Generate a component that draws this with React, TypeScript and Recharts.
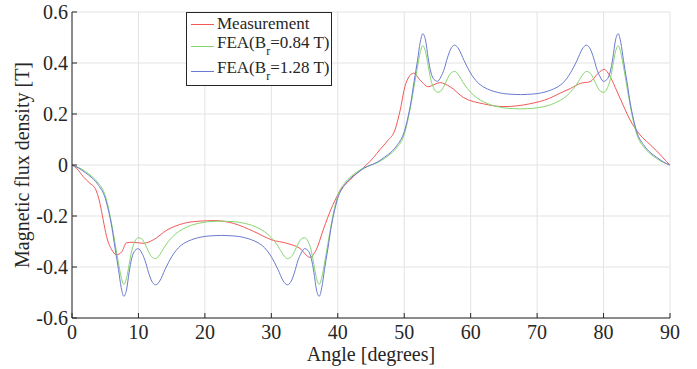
import React from 'react';
import { LineChart, Line, XAxis, YAxis, CartesianGrid, Label } from 'recharts';

// ---------- data ----------
const angleTicks = [0, 10, 20, 30, 40, 50, 60, 70, 80, 90];
const fluxTicks = [-0.6, -0.4, -0.2, 0, 0.2, 0.4, 0.6];

const measurementAngle = [0, 0.7, 1.7, 2.7, 3.5, 4.2, 4.7, 5.2, 6, 6.7, 7.5, 8.2, 9.2, 10.7, 12.2, 14.3, 16.8, 19.3, 21.5, 24.3, 27.3, 30.1, 32.3, 34.3, 35.8, 36.8, 37.8, 39.2, 40.5, 41.8, 43, 44.3, 45.4, 46.4, 47.5, 48.6, 49.4, 50.1, 50.7, 51.4, 52.4, 53.6, 55.4, 56.9, 58.9, 61.9, 65, 68.9, 71.9, 73.4, 75, 76.5, 78, 79.2, 80.1, 81, 82, 83.2, 84, 85.5, 87, 88, 89.5, 90];
const measurementFlux = [0, -0.013, -0.046, -0.072, -0.092, -0.15, -0.216, -0.28, -0.333, -0.352, -0.34, -0.305, -0.303, -0.307, -0.294, -0.255, -0.229, -0.22, -0.218, -0.229, -0.26, -0.294, -0.307, -0.327, -0.362, -0.33, -0.255, -0.16, -0.095, -0.059, -0.03, 0, 0.03, 0.062, 0.095, 0.137, 0.216, 0.307, 0.345, 0.36, 0.333, 0.307, 0.323, 0.307, 0.265, 0.24, 0.229, 0.24, 0.262, 0.281, 0.3, 0.32, 0.327, 0.36, 0.375, 0.346, 0.29, 0.22, 0.176, 0.118, 0.08, 0.055, 0.013, 0];

const feaAngle = [0, 1, 2, 3, 4, 5, 5.5, 6, 6.5, 7, 7.4, 7.8, 8.2, 8.6, 9, 9.5, 10, 10.5, 11, 11.5, 12, 12.6, 13.2, 14, 15, 16, 17, 18, 19, 20, 21.5, 22.5, 23.5, 25, 26, 27, 28, 29, 30, 31, 31.8, 32.4, 33, 33.5, 34, 34.5, 35, 35.5, 36, 36.4, 36.8, 37.2, 37.6, 38, 38.5, 39, 39.5, 40, 41, 42, 43, 44, 45,
  46, 47, 48, 49, 50, 50.5, 51, 51.5, 52, 52.4, 52.8, 53.2, 53.6, 54, 54.5, 55, 55.5, 56, 56.5, 57, 57.6, 58.2, 59, 60, 61, 62, 63, 64, 65, 66.5, 67.5, 68.5, 70, 71, 72, 73, 74, 75, 76, 76.8, 77.4, 78, 78.5, 79, 79.5, 80, 80.5, 81, 81.4, 81.8, 82.2, 82.6, 83, 83.5, 84, 84.5, 85, 86, 87, 88, 89, 90];

const fea084Flux = [0, -0.01, -0.025, -0.045, -0.072, -0.12, -0.17, -0.235, -0.31, -0.385, -0.44, -0.468, -0.445, -0.39, -0.335, -0.298, -0.285, -0.29, -0.31, -0.338, -0.36, -0.367, -0.352, -0.318, -0.285, -0.262, -0.247, -0.236, -0.229, -0.224, -0.221, -0.22, -0.221, -0.224, -0.229, -0.236, -0.247, -0.262, -0.285, -0.318, -0.352, -0.367, -0.36, -0.338, -0.31, -0.29, -0.285, -0.298, -0.335, -0.39, -0.445, -0.468, -0.44, -0.385, -0.31, -0.235, -0.17, -0.12, -0.072, -0.045, -0.025, -0.01, 0,
  0.01, 0.025, 0.045, 0.072, 0.12, 0.17, 0.235, 0.31, 0.385, 0.44, 0.468, 0.445, 0.39, 0.335, 0.298, 0.285, 0.29, 0.31, 0.338, 0.36, 0.367, 0.352, 0.318, 0.285, 0.262, 0.247, 0.236, 0.229, 0.224, 0.221, 0.22, 0.221, 0.224, 0.229, 0.236, 0.247, 0.262, 0.285, 0.318, 0.352, 0.367, 0.36, 0.338, 0.31, 0.29, 0.285, 0.298, 0.335, 0.39, 0.445, 0.468, 0.44, 0.385, 0.31, 0.235, 0.17, 0.12, 0.072, 0.045, 0.025, 0.01, 0];

const fea128Flux = [0, -0.012, -0.03, -0.05, -0.08, -0.13, -0.18, -0.245, -0.33, -0.41, -0.48, -0.515, -0.49, -0.42, -0.365, -0.335, -0.328, -0.345, -0.375, -0.42, -0.455, -0.47, -0.455, -0.41, -0.36, -0.325, -0.305, -0.293, -0.285, -0.28, -0.277, -0.276, -0.277, -0.28, -0.285, -0.293, -0.305, -0.325, -0.36, -0.41, -0.455, -0.47, -0.455, -0.42, -0.375, -0.345, -0.328, -0.335, -0.365, -0.42, -0.49, -0.515, -0.48, -0.41, -0.33, -0.245, -0.18, -0.13, -0.08, -0.05, -0.03, -0.012, 0,
  0.012, 0.03, 0.05, 0.08, 0.13, 0.18, 0.245, 0.33, 0.41, 0.48, 0.515, 0.49, 0.42, 0.365, 0.335, 0.328, 0.345, 0.375, 0.42, 0.455, 0.47, 0.455, 0.41, 0.36, 0.325, 0.305, 0.293, 0.285, 0.28, 0.277, 0.276, 0.277, 0.28, 0.285, 0.293, 0.305, 0.325, 0.36, 0.41, 0.455, 0.47, 0.455, 0.42, 0.375, 0.345, 0.328, 0.335, 0.365, 0.42, 0.49, 0.515, 0.48, 0.41, 0.33, 0.245, 0.18, 0.13, 0.08, 0.05, 0.03, 0.012, 0];

// ---------- styles ----------
const AXIS = '#262626';
const GRID = '#e3e3e3';
const FONT = '"Liberation Serif", "Times New Roman", Times, serif';
const TICK_FS = 20;

const toPoints = (xs: number[], ys: number[]) => xs.map((x, i) => ({ angle: x, flux: ys[i] }));

const series = [
  { key: 'm', label: 'Measurement', sub: false, value: '', color: '#f25858', data: toPoints(measurementAngle, measurementFlux) },
  { key: 'g', label: 'FEA(B', sub: true, value: '=0.84 T)', color: '#86d66e', data: toPoints(feaAngle, fea084Flux) },
  { key: 'b', label: 'FEA(B', sub: true, value: '=1.28 T)', color: '#6a7ad0', data: toPoints(feaAngle, fea128Flux) },
];

const fmt = (v: number) => (Math.abs(v) < 1e-9 ? '0' : v.toFixed(1));
const tickText: React.CSSProperties = { fontFamily: FONT, fontSize: TICK_FS };

const BottomTick = (p: any) => (
  <g>
    <line x1={p.x} x2={p.x} y1={p.y} y2={p.y - 5} stroke={AXIS} strokeWidth={1} />
    <text x={p.x} y={p.y + 21} textAnchor="middle" fill={AXIS} style={tickText}>{p.payload.value}</text>
  </g>
);
const TopTick = (p: any) => (
  <line x1={p.x} x2={p.x} y1={p.y} y2={p.y + 5} stroke={AXIS} strokeWidth={1} />
);
const LeftTick = (p: any) => (
  <g>
    <line x1={p.x} x2={p.x + 5} y1={p.y} y2={p.y} stroke={AXIS} strokeWidth={1} />
    <text x={p.x - 4} y={p.y + 7} textAnchor="end" fill={AXIS} style={tickText}>{fmt(p.payload.value)}</text>
  </g>
);
const RightTick = (p: any) => (
  <line x1={p.x} x2={p.x - 5} y1={p.y} y2={p.y} stroke={AXIS} strokeWidth={1} />
);

const LegendBox = () => (
  <div
    style={{
      position: 'absolute', left: 186, top: 12, width: 146, height: 74,
      boxSizing: 'border-box', border: `1px solid ${AXIS}`, background: '#fff',
      fontFamily: FONT, fontSize: 17, color: AXIS, lineHeight: 'normal',
    }}
  >
    {series.map((s, i) => (
      <div key={s.key} style={{ display: 'flex', alignItems: 'center', height: [22, 22, 28][i] }}>
        <div style={{ width: 23, height: 0, borderTop: `1px solid ${s.color}`, marginLeft: 4, marginRight: 3 }} />
        <span style={{ whiteSpace: 'nowrap' }}>
          {s.label}
          {s.sub ? <span style={{ fontSize: 12, verticalAlign: '-7px' }}>r</span> : null}
          {s.value}
        </span>
      </div>
    ))}
  </div>
);

export default function App() {
  return (
    <div style={{ position: 'absolute', left: 0, top: 0, width: 697, height: 369, background: '#fff', fontFamily: FONT }}>
      <LineChart width={697} height={369} margin={{ top: 12, right: 27, bottom: 0, left: 0 }} style={{ fontFamily: FONT }}>
        <CartesianGrid stroke={GRID} strokeWidth={1} />
        <XAxis
          type="number" dataKey="angle" domain={[0, 90]} ticks={angleTicks} interval={0}
          height={51} tickSize={0} tickMargin={0} tickLine={false}
          axisLine={{ stroke: AXIS }} tick={BottomTick}
        >
          <Label value="Angle [degrees]" position="insideBottom" offset={8} fill={AXIS} fontSize={20} fontFamily={FONT} style={{ fontFamily: FONT }} />
        </XAxis>
        <XAxis
          xAxisId="top" orientation="top" type="number" domain={[0, 90]} ticks={angleTicks} interval={0}
          height={0} tickSize={0} tickMargin={0} tickLine={false} axisLine={{ stroke: AXIS }} tick={TopTick}
        />
        <YAxis
          type="number" domain={[-0.6, 0.6]} ticks={fluxTicks} interval={0} width={72}
          tickSize={0} tickMargin={0} tickLine={false} axisLine={{ stroke: AXIS }} tick={LeftTick}
        >
          <Label value="Magnetic flux density [T]" angle={-90} position="insideLeft" offset={22}
            fill={AXIS} fontSize={20} fontFamily={FONT} style={{ textAnchor: 'middle', fontFamily: FONT }} />
        </YAxis>
        <YAxis
          yAxisId="right" orientation="right" type="number" domain={[-0.6, 0.6]} ticks={fluxTicks} interval={0}
          width={0} tickSize={0} tickMargin={0} tickLine={false} axisLine={{ stroke: AXIS }} tick={RightTick}
        />
        {series.map((s) => (
          <Line
            key={s.key} data={s.data} dataKey="flux" type="monotone" stroke={s.color}
            strokeWidth={1} dot={false} activeDot={false} isAnimationActive={false}
          />
        ))}
      </LineChart>
      <LegendBox />
    </div>
  );
}
